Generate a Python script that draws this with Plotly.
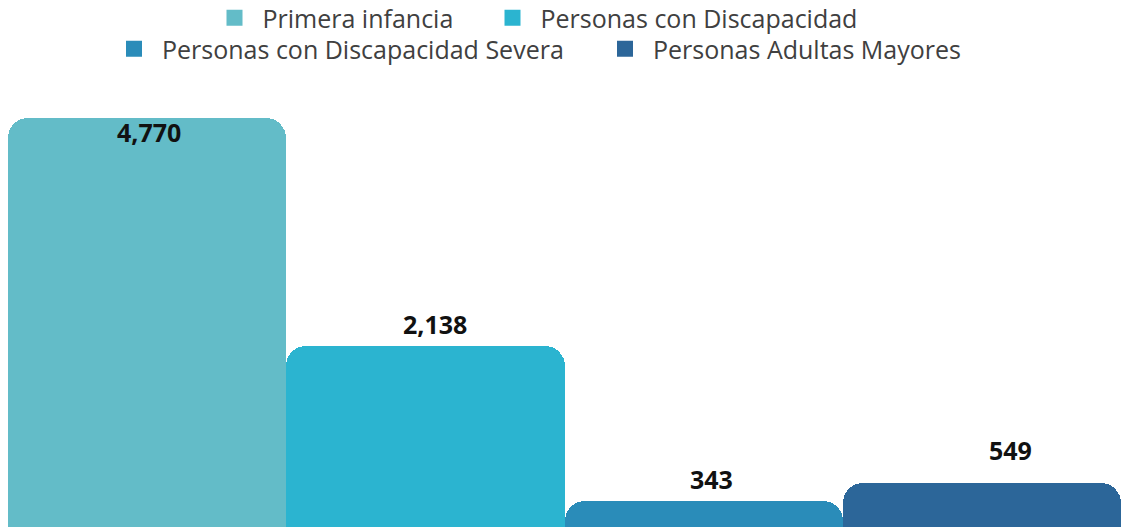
import plotly.graph_objects as go

CATEGORIES = [
    "Primera infancia",
    "Personas con Discapacidad",
    "Personas con Discapacidad Severa",
    "Personas Adultas Mayores",
]
VALUES = [4770, 2138, 343, 549]
COLORS = ["#63BCC8", "#2BB4D0", "#2A8CB9", "#2C6699"]
LEGEND_ROW = ["legend", "legend", "legend2", "legend2"]
LEGEND_ENTRY_WIDTH = [217, 320, 430, 320]
LABEL_YSHIFT = [-14, 22, 22, 33]
LABEL_XSHIFT = [2, 10, 8, 29]

X = list(range(len(CATEGORIES)))

fig = go.Figure()
fig.add_trace(go.Bar(
    x=X, y=VALUES,
    marker=dict(color=COLORS, line=dict(width=0), cornerradius=20),
    width=1, showlegend=False, hoverinfo="skip",
))
for cat, col, leg, lw in zip(CATEGORIES, COLORS, LEGEND_ROW, LEGEND_ENTRY_WIDTH):
    fig.add_trace(go.Scatter(
        x=[None], y=[None], mode="markers", name=cat, legend=leg,
        legendwidth=lw,
        marker=dict(symbol="square", size=17, color=col),
    ))

for i, v in enumerate(VALUES):
    fig.add_annotation(
        x=X[i], y=v, text=f"<b>{v:,}</b>", showarrow=False,
        yanchor="middle", xanchor="center",
        yshift=LABEL_YSHIFT[i], xshift=LABEL_XSHIFT[i],
        font=dict(family="Open Sans", size=25, color="#111111"),
    )

legend_common = dict(
    orientation="h", xref="container", yref="container",
    xanchor="left", yanchor="middle", itemwidth=46,
    font=dict(family="Open Sans", size=25, color="#404040"),
    bgcolor="rgba(0,0,0,0)", itemclick=False, itemdoubleclick=False,
)
fig.update_layout(
    width=1121, height=527,
    margin=dict(l=8, r=0, t=0, b=0, autoexpand=False),
    paper_bgcolor="white", plot_bgcolor="white",
    bargap=0,
    xaxis=dict(range=[-0.5, 3.5], visible=False, fixedrange=True),
    yaxis=dict(range=[46, 6137], visible=False, fixedrange=True),
    legend=dict(x=206.5 / 1121, y=1 - 18 / 527, **legend_common),
    legend2=dict(x=106 / 1121, y=1 - 49 / 527, **legend_common),
    showlegend=True,
)

fig.write_html("out.html")
